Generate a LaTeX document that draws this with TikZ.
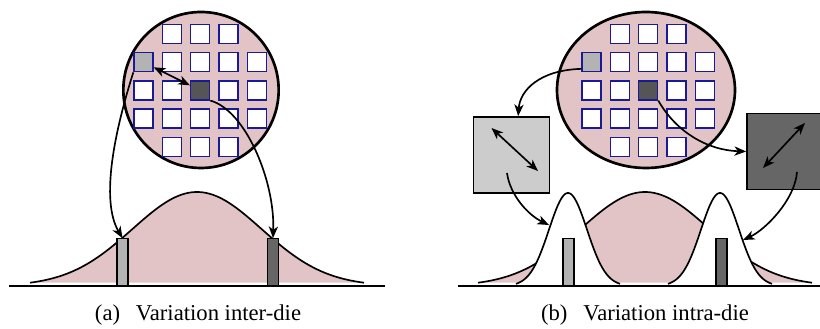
\documentclass[tikz,border=0pt]{standalone}
\usepackage{fontspec}
\setmainfont{Liberation Serif}
\usetikzlibrary{arrows.meta}
\definecolor{waferpink}{HTML}{E3C4C6}
\definecolor{dieblue}{HTML}{1A1A99}
\definecolor{lightdie}{HTML}{B3B3B3}
\definecolor{darkdie}{HTML}{555555}
\definecolor{lightbox}{HTML}{CCCCCC}
\definecolor{darkbox}{HTML}{666666}
\tikzset{
  die/.style={draw=dieblue, fill=white, minimum size=11.4pt, inner sep=0pt, line width=0.8pt},
  bar/.style={draw, minimum width=6.6pt, minimum height=28pt, inner sep=0pt, anchor=south, line width=0.7pt},
  zoombox/.style={draw, minimum width=45.6pt, minimum height=45.6pt, inner sep=0pt, line width=1pt},
  link/.style={->, >={Stealth[length=7pt,width=5.5pt,inset=2pt]}, line width=1pt},
}

\begin{document}
\begin{tikzpicture}[x=0.6pt,y=-0.6pt]
\useasboundingbox (0,0) rectangle (820,329);

% wafers
\draw[fill=waferpink, line width=1.6pt] (201,90) ellipse [x radius=46.6pt, y radius=46.8pt];
\draw[fill=waferpink, line width=1.6pt] (646,90) ellipse [x radius=53.4pt, y radius=46.8pt];
\foreach \p/\ox in {a/0,b/448}
  \foreach \r/\cs in {0/{1,2,3},1/{0,1,2,3,4},2/{0,1,2,3,4},3/{0,1,2,3,4},4/{1,2,3}}
    \foreach \c in \cs
      \node[die] (\p\r\c) at (143.5+\ox+28.3*\c, 34+28.2*\r) {};
\foreach \p in {a,b}{
  \node[die, fill=lightdie] at (\p10) {};
  \node[die, fill=darkdie] at (\p22) {};
}

% distributions
\draw[line width=1.1pt] (9,286) -- (385,286);
\draw[line width=1.1pt] (458,286) -- (820,286);
\draw[fill=waferpink, line width=1pt] plot[domain=30:364, samples=100]
  (\x, {286-94*exp(-0.5*((\x-197)/64.5)^2)});
\draw[fill=waferpink, line width=1pt] plot[domain=478:812, samples=100]
  (\x, {286-94*exp(-0.5*((\x-645)/64.5)^2)});
\foreach \m in {568,720}
  \draw[fill=white, line width=1pt] plot[domain=\m-52:\m+52, samples=80]
    (\x, {286-93*exp(-0.5*((\x-\m)/19)^2)});

\node[bar, fill=lightdie] (abar1) at (122.5,286) {};
\node[bar, fill=darkbox] (abar2) at (273,286) {};
\node[bar, fill=lightdie] (bbar1) at (568.5,286) {};
\node[bar, fill=darkbox] (bbar2) at (721.5,286) {};

% zoomed dies
\node[zoombox, fill=lightbox] (lbox) at (511.5,155) {};
\node[zoombox, fill=darkbox] (rbox) at (785,151.5) {};
\coordinate (lpk) at (549,225);
\coordinate (rpk) at (743,240);

% arrows
\draw[link, <->] (a10) -- (a22);
\draw[link] (a10.south west) .. controls (115,130) and (100,200) .. (abar1.north);
\draw[link] (a22.south east) .. controls (245,110) and (275,180) .. (abar2.north);

\draw[link, <->] ([shift={(-20,-27)}]lbox.center) -- ([shift={(26.5,16)}]lbox.center);
\draw[link, <->] ([shift={(-22,16.5)}]rbox.center) -- ([shift={(20,-28.5)}]rbox.center);
\draw[link] ([yshift=-4pt]b10.west) .. controls (540,70) and (520,90) .. ([xshift=4pt]lbox.north);
\draw[link] (b22.south east) .. controls (675,130) and (705,150) .. (rbox.west);
\draw[link] ([shift={(-4.5,18)}]lbox.center) .. controls (510,195) and (528,215) .. (lpk);
\draw[link] ([shift={(12,20.5)}]rbox.center) .. controls (795,200) and (765,230) .. (rpk);

% captions
\node[font=\fontsize{13.6}{16}\selectfont] (capa) at (198,315) {(a)\hspace{0.7em}Variation inter-die};
\node[font=\fontsize{13.6}{16}\selectfont] (capb) at (645,315) {(b)\hspace{0.7em}Variation intra-die};
\end{tikzpicture}
\end{document}
